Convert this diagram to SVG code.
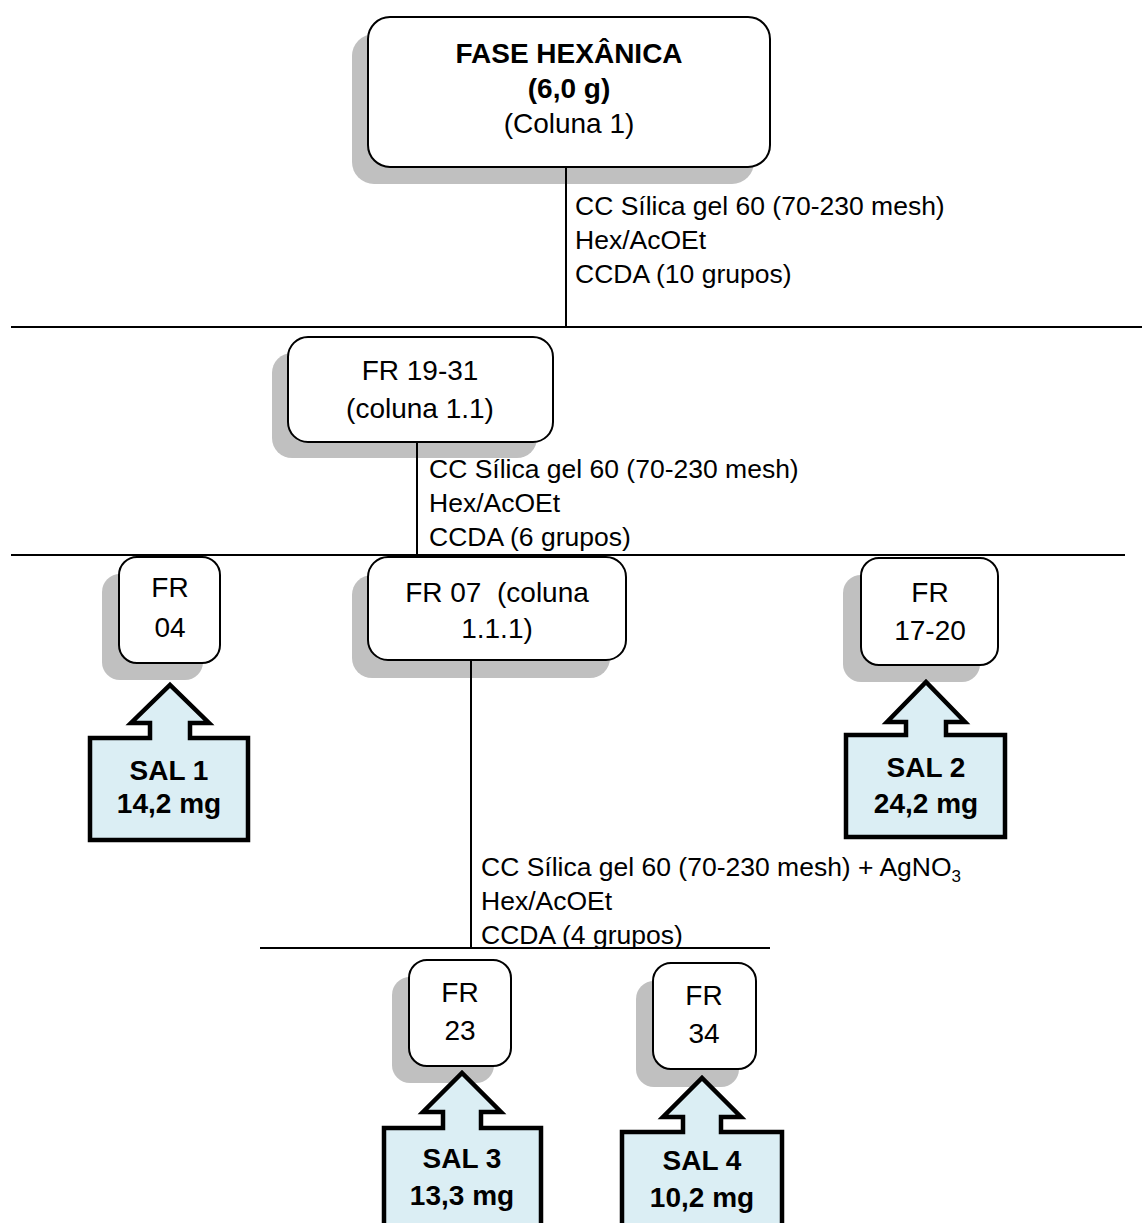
<svg xmlns="http://www.w3.org/2000/svg" width="1142" height="1223" viewBox="0 0 1142 1223">
<style>
  .shadow { fill: #c0c0c0; }
  .box { fill: #ffffff; stroke: #000000; stroke-width: 2; }
  .t { font-family: "Liberation Sans", Arial, sans-serif; font-size: 28px; fill: #000; text-anchor: middle; }
  .b { font-weight: bold; }
  .lbl { font-family: "Liberation Sans", Arial, sans-serif; font-size: 26.5px; fill: #000; }
  .ln { stroke: #000; stroke-width: 2; fill: none; }
  .sal { fill: #dbeef4; stroke: #000; stroke-width: 4.5; stroke-linejoin: miter; }
</style>
<rect width="1142" height="1223" fill="#ffffff"/>

<g id="node-fase-hexanica">
  <rect class="shadow" x="352" y="34" width="402" height="150" rx="22"/>
  <rect class="box" x="368" y="17" width="402" height="150" rx="22"/>
  <text class="t b" x="569" y="63">FASE HEXÂNICA</text>
  <text class="t b" x="569" y="98">(6,0 g)</text>
  <text class="t" x="569" y="133">(Coluna 1)</text>
</g>

<g id="node-fr19-31">
  <rect class="shadow" x="272" y="353" width="265" height="105" rx="20"/>
  <rect class="box" x="288" y="337" width="265" height="105" rx="20"/>
  <text class="t" x="420" y="380">FR 19-31</text>
  <text class="t" x="420" y="418">(coluna 1.1)</text>
</g>

<g id="node-fr04">
  <rect class="shadow" x="102" y="574" width="101" height="106" rx="18"/>
  <rect class="box" x="119" y="557" width="101" height="106" rx="18"/>
  <text class="t" x="170" y="597">FR</text>
  <text class="t" x="170" y="637">04</text>
</g>

<g id="node-fr07">
  <rect class="shadow" x="352" y="575" width="258" height="103" rx="20"/>
  <rect class="box" x="368" y="557" width="258" height="103" rx="20"/>
  <text class="t" x="497" y="602" style="white-space:pre">FR 07  (coluna</text>
  <text class="t" x="497" y="638">1.1.1)</text>
</g>

<g id="node-fr17-20">
  <rect class="shadow" x="843" y="575" width="137" height="107" rx="18"/>
  <rect class="box" x="861" y="558" width="137" height="107" rx="18"/>
  <text class="t" x="930" y="602">FR</text>
  <text class="t" x="930" y="640">17-20</text>
</g>

<g id="node-fr23">
  <rect class="shadow" x="392" y="977" width="102" height="106" rx="18"/>
  <rect class="box" x="409" y="960" width="102" height="106" rx="18"/>
  <text class="t" x="460" y="1002">FR</text>
  <text class="t" x="460" y="1040">23</text>
</g>

<g id="node-fr34">
  <rect class="shadow" x="636" y="981" width="103" height="106" rx="18"/>
  <rect class="box" x="653" y="963" width="103" height="106" rx="18"/>
  <text class="t" x="704" y="1005">FR</text>
  <text class="t" x="704" y="1043">34</text>
</g>

<g id="node-sal1">
  <path class="sal" d="M90,738 H150 V723 H131 L170,685 L209,723 H190 V738 H248 V840 H90 Z"/>
  <text class="t b" x="169" y="780">SAL 1</text>
  <text class="t b" x="169" y="813">14,2 mg</text>
</g>

<g id="node-sal2">
  <path class="sal" d="M846,735 H906 V722 H887 L926,682 L965,722 H946 V735 H1005 V837 H846 Z"/>
  <text class="t b" x="926" y="777">SAL 2</text>
  <text class="t b" x="926" y="813">24,2 mg</text>
</g>

<g id="node-sal3">
  <path class="sal" d="M384,1128 H443 V1112 H423 L462,1073 L501,1112 H481 V1128 H541 V1232 H384 Z"/>
  <text class="t b" x="462" y="1168">SAL 3</text>
  <text class="t b" x="462" y="1205">13,3 mg</text>
</g>

<g id="node-sal4">
  <path class="sal" d="M622,1132 H683 V1117 H663 L702,1078 L741,1117 H721 V1132 H782 V1232 H622 Z"/>
  <text class="t b" x="702" y="1170">SAL 4</text>
  <text class="t b" x="702" y="1207">10,2 mg</text>
</g>

<g id="connectors">
  <line class="ln" x1="566" y1="168" x2="566" y2="327"/>
  <line class="ln" x1="11" y1="327" x2="1142" y2="327"/>
  <line class="ln" x1="417" y1="443" x2="417" y2="555"/>
  <line class="ln" x1="11" y1="555" x2="1125" y2="555"/>
  <line class="ln" x1="471" y1="661" x2="471" y2="948"/>
  <line class="ln" x1="260" y1="948" x2="770" y2="948"/>
</g>

<g id="label-col1">
  <text class="lbl" x="575" y="215">CC Sílica gel 60 (70-230 mesh)</text>
  <text class="lbl" x="575" y="249">Hex/AcOEt</text>
  <text class="lbl" x="575" y="283">CCDA (10 grupos)</text>
</g>
<g id="label-col11">
  <text class="lbl" x="429" y="478">CC Sílica gel 60 (70-230 mesh)</text>
  <text class="lbl" x="429" y="512">Hex/AcOEt</text>
  <text class="lbl" x="429" y="546">CCDA (6 grupos)</text>
</g>
<g id="label-col111">
  <text class="lbl" x="481" y="876">CC Sílica gel 60 (70-230 mesh) + AgNO<tspan font-size="17" dy="6">3</tspan></text>
  <text class="lbl" x="481" y="910">Hex/AcOEt</text>
  <text class="lbl" x="481" y="944">CCDA (4 grupos)</text>
</g>
</svg>
